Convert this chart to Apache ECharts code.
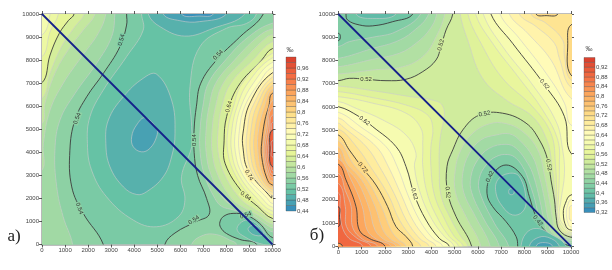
<!DOCTYPE html>
<html><head><meta charset="utf-8">
<style>html,body{margin:0;padding:0;background:#fff}#c{width:612px;height:270px;filter:blur(.4px)}</style>
<script src="https://cdn.jsdelivr.net/npm/echarts@6/dist/echarts.min.js"></script>
</head><body><div id="c"></div>
<script>
// ---- panel a contours (x, y in data units)
const a52=[[4320,10000],[4390,9300],[3670,8150],[2660,6700],[2080,5540],[1970,4380],[2150,3230],[2800,2070],[3960,1060],[4970,770],[5910,1200],[6200,1920],[6050,2940],[6490,4240],[6490,5110],[6420,6840],[6850,8580],[8000,9380],[8870,9590],[9300,10000]];
const a50c=[[4970,7390],[5620,6270],[5770,4820],[5620,3800],[5260,2940],[4540,2290],[4100,2170],[3530,2500],[2950,3370],[2770,4380],[2880,5400],[3530,6410],[4390,7210]];
const a48c=[[4470,5500],[4970,5030],[4970,4670],[4680,4170],[4320,4020],[3960,4240],[3890,4670],[4100,5180]];
const a50t=[[4610,10000],[5120,9450],[6200,9040],[7430,9380],[8800,10000]];
const a48t=[[5260,10000],[5980,9710],[6850,9670],[8000,10000]];
const a46t=[[6050,10000],[6850,9910],[7430,10000]];
const a54L=[[3670,10000],[3670,9520],[3380,8580],[2660,7420],[1940,6410],[1430,5400],[1210,4090],[1290,2500],[1790,1350],[2660,0]];
const a56L=[[3160,10000],[3020,9010],[2370,7860],[1430,6550],[780,5400],[560,4090],[640,2500],[920,1200],[1330,0]];
const a58L=[[2770,10000],[2440,9160],[1720,8150],[920,6990],[350,5830],[60,4380],[0,3230]];
const a60L=[[2300,10000],[1790,9300],[1140,8440],[560,7420],[130,6120],[0,5250]];
const a62L=[[1830,10000],[1430,9450],[850,8580],[350,7420],[0,6340]];
const a64L=[[1390,10000],[1140,9710],[750,9160],[350,8220],[0,7020]];
const a66L=[[710,10000],[350,9230],[0,8150]];
const a68L=[[350,10000],[0,9090]];
const a54R=[[9600,10000],[8580,9000],[7570,8000],[6890,7000],[6700,6000],[6600,5000],[6600,4000],[6750,3000],[7140,2000],[7250,1300],[6700,1000],[5770,500],[5330,0]];
const a56R=[[10000,9600],[8950,9000],[7960,8000],[7220,7000],[6980,6000],[6860,5000],[6860,4000],[7050,3000],[7500,2000],[7800,1650],[8300,1500],[9000,1250],[9600,800],[10000,550]];
const a58R=[[10000,9350],[9350,9000],[8350,8000],[7540,7000],[7250,6000],[7120,5000],[7120,4000],[7340,3000],[7860,2000],[8400,1620],[9200,1220],[9750,850],[10000,730]];
const a60R=[[10000,9100],[9750,9000],[8740,8000],[7860,7000],[7530,6000],[7380,5000],[7380,4000],[7630,3000],[8220,2000],[8750,1600],[9400,1250],[10000,880]];
const a62R=[[10000,8800],[9140,8000],[8190,7000],[7800,6000],[7640,5000],[7640,4000],[7930,3000],[8580,2000],[9100,1600],[9600,1300],[10000,1020]];
const a64R=[[10000,8500],[9530,8000],[8500,6850],[8010,5550],[7900,4500],[7950,3500],[8720,2230],[9370,1640],[10000,1130]];
const a66R=[[10000,8300],[8690,7000],[8310,6000],[8070,5000],[8060,4000],[8390,3000],[9120,2000],[10000,1280]];
const a68R=[[10000,8100],[8930,7000],[8470,6000],[8240,5000],[8230,4000],[8550,3000],[9330,2000],[10000,1450]];
const a70R=[[10000,7900],[9170,7000],[8640,6000],[8400,5000],[8390,4000],[8720,3000],[9550,2000],[10000,1620]];
const a72R=[[10000,7680],[9410,7000],[8800,6000],[8570,5000],[8560,4000],[8880,3000],[9770,2000],[10000,1780]];
const a74R=[[10000,7450],[9020,6130],[8720,4830],[8720,4200],[8940,3230],[9960,2010]];
const a76R=[[10000,7270],[9140,6000],[8910,5000],[8880,4000],[9180,3000],[10000,2130]];
const a78R=[[10000,7090],[9310,6000],[9070,5000],[9040,4000],[9310,3000],[10000,2250]];
const a80R=[[10000,6910],[9490,6000],[9240,5000],[9200,4000],[9450,3000],[10000,2360]];
const a82R=[[10000,6730],[9660,6000],[9400,5000],[9370,4000],[9580,3000],[10000,2470]];
const a84R=[[10000,6560],[9840,6000],[9670,5400],[9530,4400],[9530,3810],[9750,2880],[10000,2580]];
const a86R=[[10000,6250],[9720,5000],[9600,4000],[9800,3000],[10000,2740]];
const a88R=[[10000,5930],[9800,5000],[9670,4000],[9850,3100],[10000,2900]];
const a90R=[[10000,5610],[9880,5000],[9750,4000],[9900,3200],[10000,3050]];
const a92R=[[10000,5290],[9950,5000],[9820,4000],[9950,3350],[10000,3210]];
const a94R=[[10000,4970],[9890,4180],[10000,3370]];
const a96R=[[10000,4500],[9960,4150],[10000,3800]];
const a56b=[[6490,0],[6990,400],[7570,430],[8150,190],[8440,0]];
const a54p=[[9310,0],[8580,220],[8000,480],[7750,740],[7720,980],[7890,1230],[8290,1350],[8870,1270],[9450,910],[10000,300]];
const a52p=[[10000,0],[9450,40],[8800,330],[8470,620],[8580,910],[8940,1060],[9380,840],[9880,190]];
const a50p=[[8940,690],[9230,840],[9590,550],[9590,400],[9160,430]];
// ---- panel b contours
const b52A=[[0,7130],[470,7230],[1190,7190],[2050,7130],[2910,7190],[3630,7520],[4200,8020],[4410,8600],[4630,9310],[4920,10000]];
const b50A=[[0,7420],[1480,7590],[2770,7730],[3630,8170],[4130,8880],[4570,10000]];
const b48A=[[0,7730],[1480,8050],[2620,8310],[3340,8740],[3910,9310],[4230,10000]];
const b46A=[[0,8090],[1480,8520],[2480,8810],[3200,9240],[3880,10000]];
const b44A=[[0,8600],[470,8810],[1480,9000],[2480,9240],[3540,10000]];
const b42A=[[330,10000],[400,9740],[900,9530],[1480,9490],[2340,9670],[3200,10000]];
const b40A=[[760,10000],[1480,9810],[2480,10000]];
const b42e=[[0,9170],[90,9030],[0,8850]];
const b54L=[[0,6900],[1480,6700],[2910,6470],[4270,6230],[4530,5940],[4530,5440],[4410,4860],[4340,4150],[4340,3430],[4410,2210],[4860,1130],[5270,420],[5570,0]];
const b56L=[[0,6660],[1480,6400],[2910,6080],[3840,5650],[4060,5080],[3980,4290],[3980,3430],[4130,2210],[4590,1130],[4990,420],[5370,0]];
const b58L=[[0,6440],[1480,6160],[2910,5730],[3550,5080],[3630,4290],[3630,3430],[3840,2210],[4310,1130],[4770,420],[5170,0]];
const b60L=[[0,6230],[760,5940],[1910,5440],[2910,4790],[3340,4000],[3270,3430],[3550,2210],[4040,1130],[4560,420],[4970,0]];
const b62L=[[0,6010],[900,5580],[1480,5150],[2480,4290],[2910,3430],[3270,2210],[3770,1130],[4340,340],[4770,0]];
const b64L=[[0,5770],[950,5150],[2050,4290],[2530,3430],[2990,2210],[3490,1130],[4060,340],[4490,0]];
const b66L=[[0,5530],[520,5150],[1630,4290],[2150,3430],[2710,2210],[3200,1130],[3780,340],[4200,0]];
const b68L=[[0,5300],[200,5150],[1200,4290],[1770,3430],[2430,2210],[2920,1130],[3490,340],[3910,0]];
const b70L=[[0,5050],[780,4290],[1380,3430],[2150,2210],[2630,1130],[3200,340],[3550,0]];
const b72L=[[0,4790],[470,4150],[1050,3360],[1620,2640],[2120,1710],[2480,850],[2910,420],[3200,0]];
const b74L=[[0,4540],[650,3530],[1230,2860],[1850,1710],[2260,700],[2570,300],[2910,0]];
const b76L=[[0,4280],[400,3530],[1000,2860],[1580,1710],[1920,700],[2250,300],[2690,0]];
const b78L=[[0,4030],[180,3530],[780,2860],[1300,1710],[1580,700],[1950,300],[2480,0]];
const b80L=[[0,3780],[550,2860],[1030,1710],[1240,700],[1650,300],[2260,0]];
const b82L=[[0,3530],[330,2860],[760,1710],[900,700],[1330,340],[2010,0]];
const b84L=[[0,3140],[300,2400],[550,1710],[620,800],[1050,300],[1690,0]];
const b86L=[[0,2710],[300,1710],[350,850],[800,350],[1400,0]];
const b88L=[[0,2300],[73,1710],[150,900],[450,350],[1050,0]];
const b90L=[[0,1700],[50,1300],[0,850]];
const b82c=[[0,130],[180,0]];
const b54R=[[5240,10000],[5560,8880],[6200,7230],[7210,6300],[8350,5580],[8960,4580],[9170,3570],[9330,1990],[9360,1280],[9540,660],[10000,460]];
const b56R=[[5570,10000],[6130,8740],[7060,7230],[8350,6010],[9140,4860],[9330,3570],[9390,1990],[9390,1280],[9600,700],[10000,520]];
const b58R=[[5900,10000],[6630,8740],[7780,7230],[8780,5870],[9430,4580],[9500,3430],[9460,1990],[9430,1280],[9670,770],[10000,560]];
const b60R=[[6230,10000],[7060,8600],[8350,6950],[9360,5370],[9640,4150],[9720,3140],[9570,1990],[9500,1280],[9720,850],[10000,600]];
const b62R=[[6560,10000],[7490,8740],[8860,6950],[9720,5580],[10000,4000]];
const b64R=[[6950,10000],[7780,8950],[8930,7450],[9720,6160],[10000,5220]];
const b66R=[[7350,10000],[8140,9170],[9140,8020],[10000,6370]];
const b68R=[[7780,10000],[8500,9460],[9290,8740],[9500,8090],[10000,6840]];
const b70R=[[8280,10000],[8930,9600],[9640,8880],[9720,8170],[10000,7160]];
const b72t=[[8500,10000],[8930,9930],[9430,10000]];
const b72r=[[10000,9530],[9860,8740],[10000,7370]];
const b62h=[[10000,2210],[9760,1850],[9670,1420],[9790,850],[10000,700]];
const b64h=[[10000,2000],[9860,1780],[9800,1420],[9870,990],[10000,830]];
const b66h=[[10000,1750],[9930,1420],[10000,1100]];
const b52P=[[5730,0],[5060,1280],[4700,2320],[4670,3430],[4920,4150],[5350,5010],[6060,5650],[7060,5730],[8070,5300],[8640,4580],[9000,3720],[9140,2860],[9290,1990],[9360,1280],[9500,700],[10000,390]];
const b50P=[[6130,0],[5490,1280],[5040,2320],[5030,3290],[5270,4150],[5770,4860],[6490,5270],[7210,5280],[7920,4940],[8570,4150],[8870,3000],[9070,1990],[9190,1280],[9360,630],[10000,320]];
const b48P=[[6530,0],[5890,1280],[5390,2320],[5350,3140],[5630,4000],[6130,4580],[6780,4790],[7350,4840],[7780,4580],[8350,3860],[8640,3000],[8870,1990],[9010,1210],[9210,560],[10000,250]];
const b46P=[[6920,0],[6280,1130],[5730,2320],[5700,3000],[5990,3720],[6490,4220],[7210,4390],[7640,4220],[8140,3570],[8400,3000],[8660,1990],[8840,1130],[9070,490],[10000,160]];
const b44P=[[7320,0],[6710,990],[6080,2320],[6060,2930],[6350,3500],[6780,3860],[7280,3950],[7640,3790],[8000,3290],[8170,2860],[8450,1990],[8670,1060],[9010,420],[10000,90]];
const b42P=[[7710,0],[7640,420],[7210,1060],[6630,1710],[6390,2280],[6560,3000],[7210,3500],[7920,3000],[8210,2140],[8500,1280],[9000,560],[10000,0]];
const b40c=[[6780,2280],[6850,2860],[7350,3140],[7780,3000],[8070,1990],[7920,1490],[7490,1350],[7060,1710]];
const b38c=[[7350,2450],[7530,2450],[7530,2250],[7350,2250]];
const b40b=[[7850,0],[8070,560],[8500,770],[9070,560],[9790,0]];
const b38b=[[8210,0],[8500,340],[9000,390],[9500,0]];
const b36b=[[8500,0],[8780,160],[9210,0]];
// ---- contour labels: x, y, text, band level
const aLabels=[[3450,8870,'0.54',.52],[1530,5470,'0.54',.54],[1620,1560,'0.54',.54],[7640,8220,'0.54',.54],[8110,5980,'0.64',.64],[6600,4530,'0.54',.54],[8980,3010,'0.74',.74],[8840,2100,'0.64',.64],[8840,1270,'0.54',.54],[6590,1060,'0.54',.54]];
const aAngles=[75,70,-70,45,75,90,-60,-35,20,35];
const bLabels=[[4410,8670,'0.52',.52],[1190,7190,'0.52',.52],[8860,6970,'0.62',.62],[1120,5400,'0.62',.62],[6280,5700,'0.52',.50],[1050,3390,'0.72',.72],[3270,2250,'0.62',.62],[4700,2320,'0.52',.52],[9040,3500,'0.52',.52],[6520,3000,'0.42',.42],[8570,1100,'0.42',.42]];
const bAngles=[75,0,-50,-35,10,-52,-75,-85,-80,65,-50];
const diagonal=[[0,10000],[10000,0]];
const barA=[.44,1.0], barB=[.32,.96];
const palette=['#3288bd','#66c2a5','#abdda4','#e6f598','#ffffbf','#fee08b','#fdae61','#f46d43','#d73c2c'];

const LO=-900,HI=10900;
const hex=c=>[1,3,5].map(i=>parseInt(c.substr(i,2),16));
function colour(v,r){let f=(v-r[0])/(r[1]-r[0]);f=Math.max(0,Math.min(1,f))*(palette.length-1);
  const i=Math.min(palette.length-2,Math.floor(f)),t=f-i,A=hex(palette[i]),B=hex(palette[i+1]);
  return 'rgb('+A.map((a,k)=>Math.round(a+(B[k]-a)*t)).join(',')+')';}
function out(p){const [x,y]=p;if(x<=0)return[LO,y];if(x>=10000)return[HI,y];if(y<=0)return[x,LO];if(y>=10000)return[x,HI];return p;}
function ring(pts,corners){if(!corners)return pts;return pts.concat([out(pts[pts.length-1])],corners,[out(pts[0])]);}
const NE=[HI,HI],NW=[LO,HI],SW=[LO,LO],SE=[HI,LO];
const H=(pts,l,c)=>({pts:ring(pts,c),line:l,band:l});
const L=(pts,l,c)=>({pts:ring(pts,c),line:l,band:l-.02});

const aLayers=[
 L(a52,.52,[]),L(a50c,.50),L(a48c,.48),L(a50t,.50,[]),L(a48t,.48,[]),L(a46t,.46,[]),
 H(a54L,.54,[SW,NW]),H(a56L,.56,[SW,NW]),H(a58L,.58,[NW]),H(a60L,.60,[NW]),H(a62L,.62,[NW]),H(a64L,.64,[NW]),H(a66L,.66,[NW]),H(a68L,.68,[NW]),
 H(a54R,.54,[SE,NE]),H(a56R,.56,[]),H(a58R,.58,[]),H(a60R,.60,[]),H(a62R,.62,[]),H(a64R,.64,[]),H(a66R,.66,[]),H(a68R,.68,[]),H(a70R,.70,[]),H(a72R,.72,[]),H(a74R,.74,[]),H(a76R,.76,[]),H(a78R,.78,[]),H(a80R,.80,[]),H(a82R,.82,[]),H(a84R,.84,[]),H(a86R,.86,[]),H(a88R,.88,[]),H(a90R,.90,[]),H(a92R,.92,[]),H(a94R,.94,[]),H(a96R,.96,[]),
 H(a56b,.56,[]),L(a54p,.54,[SE]),L(a52p,.52),L(a50p,.50)];
const bLayers=[
 L(b52A,.52,[NW]),L(b50A,.50,[NW]),L(b48A,.48,[NW]),L(b46A,.46,[NW]),L(b44A,.44,[NW]),L(b42A,.42,[]),L(b40A,.40,[]),L(b42e,.42,[]),
 H(b54L,.54,[SW]),H(b56L,.56,[SW]),H(b58L,.58,[SW]),H(b60L,.60,[SW]),H(b62L,.62,[SW]),H(b64L,.64,[SW]),H(b66L,.66,[SW]),H(b68L,.68,[SW]),H(b70L,.70,[SW]),H(b72L,.72,[SW]),H(b74L,.74,[SW]),H(b76L,.76,[SW]),H(b78L,.78,[SW]),H(b80L,.80,[SW]),H(b82L,.82,[SW]),H(b84L,.84,[SW]),H(b86L,.86,[SW]),H(b88L,.88,[SW]),{pts:ring(b90L,[]),line:.92,band:.89},L(b82c,.82,[SW]),
 H(b54R,.54,[NE]),H(b56R,.56,[NE]),H(b58R,.58,[NE]),H(b60R,.60,[NE]),H(b62R,.62,[NE]),H(b64R,.64,[NE]),H(b66R,.66,[NE]),H(b68R,.68,[NE]),H(b70R,.70,[NE]),H(b72t,.72,[]),H(b72r,.72,[]),
 H(b62h,.62,[]),H(b64h,.64,[]),H(b66h,.66,[]),
 L(b52P,.52,[SE]),L(b50P,.50,[SE]),L(b48P,.48,[SE]),L(b46P,.46,[SE]),L(b44P,.44,[SE]),L(b42P,.42,[SE]),
 L(b40c,.40),L(b38c,.38),L(b40b,.40,[]),L(b38b,.38,[]),L(b36b,.36,[])];

const axisFont={fontSize:6,color:'#444',fontFamily:'Liberation Sans'};
const frame={show:true,onZero:false,lineStyle:{color:'#a8a8a8',width:1.6}};
const tick={show:true,length:3,lineStyle:{color:'#333',width:.8}};
function panelAxes(g){
  const base={type:'value',min:0,max:10000,interval:1000,gridIndex:g,splitLine:{show:false},axisLine:frame,axisTick:tick};
  return {
   x:[{...base,position:'bottom',axisLabel:{...axisFont,margin:3,formatter:v=>String(v)}},{...base,position:'top',axisLabel:{show:false}}],
   y:[{...base,position:'left',axisLabel:{...axisFont,margin:3,formatter:v=>String(v)}},{...base,position:'right',axisLabel:{show:false}}]};
}
function barAxes(g,r){
  return {
   x:[{type:'value',min:0,max:1,gridIndex:g,show:false}],
   y:[{type:'value',min:r[0],max:r[1],interval:.04,gridIndex:g,position:'right',splitLine:{show:false},axisLine:{show:false},axisTick:{show:false},
      axisLabel:{...axisFont,margin:1,formatter:v=>Math.abs(v-r[1])<1e-6?'':String(+v.toFixed(2)).replace('.',',')}}]};
}
const grids=[
 {left:42,top:14,width:230.5,height:230.5},{left:286,top:57,width:10,height:154},
 {left:338.3,top:14,width:232.7,height:232.3},{left:584,top:57.5,width:11,height:155}];
const axes=[panelAxes(0),barAxes(1,barA),panelAxes(2),barAxes(3,barB)];
let xAxis=[],yAxis=[],xi=[],yi=[];
axes.forEach(a=>{xi.push(xAxis.length);yi.push(yAxis.length);xAxis=xAxis.concat(a.x);yAxis=yAxis.concat(a.y);});

function field(idx,layers,range,baseLevel,major,labels,angles){
  const items=[{base:true}].concat(layers).concat(labels.map((l,i)=>({label:l,angle:angles[i]})));
  return {type:'custom',coordinateSystem:'cartesian2d',xAxisIndex:xi[idx],yAxisIndex:yi[idx],clip:true,silent:true,
   data:items.map((_,i)=>[i]),encode:{x:0},
   renderItem(p,api){
    const it=items[api.value(0)];
    if(it.base){const c=p.coordSys;return{type:'rect',shape:{x:c.x,y:c.y,width:c.width,height:c.height},style:{fill:colour(baseLevel+.01,range)}};}
    if(it.label){const [x,y,t,lv]=it.label,q=api.coord([x,y]);
      return{type:'text',x:q[0],y:q[1],rotation:it.angle*Math.PI/180,z2:50,
        style:{text:t,fontSize:6,fontFamily:'Liberation Sans',fill:'#333',align:'center',verticalAlign:'middle',backgroundColor:colour(lv+.01,range),padding:[0,1]}};}
    const isMajor=Math.abs(((it.line-major)/.1)-Math.round((it.line-major)/.1))<.01;
    return{type:'polygon',shape:{points:it.pts.map(q=>api.coord(q)),smooth:.4},
      style:{fill:colour(it.band+.01,range),stroke:isMajor?'#3c3c3c':'rgba(205,205,205,.75)',lineWidth:isMajor?.9:.8}};
   }};
}
function bar(idx,r){
  const levels=[];for(let v=r[0];v<r[1]-.001;v+=.02)levels.push(+v.toFixed(2));
  return {type:'custom',coordinateSystem:'cartesian2d',xAxisIndex:xi[idx],yAxisIndex:yi[idx],silent:true,
   data:levels.map(v=>[0,v]),encode:{x:0,y:1},
   renderItem(p,api){const v=api.value(1),A=api.coord([0,v+.02]),B=api.coord([1,v]);
    return{type:'rect',shape:{x:A[0],y:A[1],width:B[0]-A[0],height:B[1]-A[1]},style:{fill:colour(v+.01,r),stroke:'rgba(70,70,70,.55)',lineWidth:.6}};}};
}
const diag=i=>({type:'line',xAxisIndex:xi[i],yAxisIndex:yi[i],data:diagonal,symbol:'none',silent:true,z:5,lineStyle:{color:'#15208a',width:1.8}});
const gText=(x,y,t,s,f,c)=>({type:'text',x,y,style:{text:t,fontSize:s,fontFamily:f,fill:c,align:'center',verticalAlign:'middle'}});

const chart=echarts.init(document.getElementById('c'),null,{renderer:'canvas',width:612,height:270});
chart.setOption({animation:false,backgroundColor:'#fff',grid:grids,xAxis,yAxis,
 series:[field(0,aLayers,barA,.52,.54,aLabels,aAngles),diag(0),bar(1,barA),
         field(2,bLayers,barB,.52,.52,bLabels,bAngles),diag(2),bar(3,barB)],
 graphic:[gText(14,237,'а)',17,'Liberation Serif','#222'),gText(317,236,'б)',17,'Liberation Serif','#222'),
          gText(290,50,'‰',7,'Liberation Sans','#444'),gText(589,49,'‰',7,'Liberation Sans','#444')]});
</script></body></html>
